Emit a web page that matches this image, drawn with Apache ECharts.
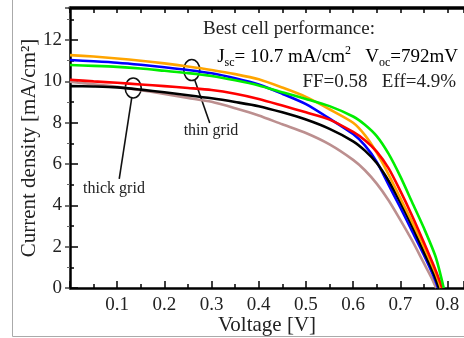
<!DOCTYPE html>
<html>
<head>
<meta charset="utf-8">
<script src="https://cdn.jsdelivr.net/npm/echarts@6/dist/echarts.min.js"></script>
<style>
  html, body { margin: 0; padding: 0; background: #fff; }
  #chart { width: 464px; height: 338px; }
</style>
</head>
<body>
<div id="chart"></div>
<script>
// J-V curves: voltage [V] and current density [mA/cm2]
const voltage = [0, 0.05, 0.1, 0.15, 0.2, 0.25, 0.3, 0.35, 0.4, 0.45, 0.5, 0.55, 0.6, 0.625, 0.65, 0.675, 0.7, 0.725, 0.75];
const orangeJ = [11.27, 11.2, 11.11, 11.0, 10.87, 10.72, 10.55, 10.35, 10.1, 9.7, 9.25, 8.65, 8.0, 7.4, 6.55, 5.5, 4.35, 3.2, 2.0];
const blueJ = [11.03, 10.97, 10.9, 10.8, 10.68, 10.55, 10.39, 10.15, 9.85, 9.4, 8.9, 8.2, 7.45, 6.9, 6.1, 5.0, 3.9, 2.75, 1.6];
const greenJ = [10.79, 10.75, 10.7, 10.62, 10.51, 10.4, 10.26, 10.05, 9.8, 9.47, 9.15, 8.8, 8.3, 7.9, 7.35, 6.5, 5.4, 4.15, 2.9];
const redJ = [10.08, 10.0, 9.93, 9.85, 9.77, 9.68, 9.58, 9.4, 9.15, 8.83, 8.5, 8.15, 7.55, 7.15, 6.6, 5.8, 4.7, 3.5, 2.2];
const blackJ = [9.77, 9.75, 9.71, 9.6, 9.47, 9.33, 9.18, 9.0, 8.8, 8.5, 8.15, 7.7, 7.1, 6.65, 6.05, 5.2, 4.15, 3.0, 1.75];
const brownJ = [9.98, 9.86, 9.74, 9.57, 9.39, 9.2, 9.01, 8.7, 8.35, 7.92, 7.5, 6.95, 6.2, 5.7, 5.05, 4.25, 3.3, 2.3, 1.2];
// tail of each curve down to its open-circuit voltage: [V, J] pairs
const orangeTail = [[0.775, 0.7], [0.786, 0]];
const blueTail = [[0.77, 0.6], [0.78, 0]];
const greenTail = [[0.775, 1.5], [0.792, 0]];
const redTail = [[0.775, 0.85], [0.789, 0]];
const blackTail = [[0.77, 0.75], [0.782, 0]];
const brownTail = [[0.765, 0.55], [0.776, 0]];

// circled regions (V, J) for the grid annotations
const thickGridMark = [0.134, 9.68];
const thinGridMark = [0.258, 10.55];

const SERIF = '"Liberation Serif", "DejaVu Serif", serif';
const TEXT_COLOR = "#222";

function curve(color, js, tail) {
  const data = voltage.map((v, i) => [v, js[i]]).concat(tail);
  return {
    type: "line",
    data,
    smooth: 0.25,
    showSymbol: false,
    lineStyle: { color, width: 2.6 },
    silent: true,
  };
}

const chart = echarts.init(document.getElementById("chart"), null, { renderer: "canvas" });

const axisText = { fontFamily: SERIF, fontSize: 19, color: TEXT_COLOR };

chart.setOption({
  animation: false,
  backgroundColor: "#fff",
  grid: { left: 70, top: 8, right: 0, bottom: 50, outerBoundsMode: "none", containLabel: false },
  xAxis: [
    {
      type: "value",
      min: 0,
      max: 0.835,
      interval: 0.1,
      name: "Voltage [V]",
      nameLocation: "middle",
      nameGap: 27,
      nameMoveOverlap: false,
      nameTextStyle: { fontFamily: SERIF, fontSize: 21, color: TEXT_COLOR, verticalAlign: "top" },
      axisLine: { show: true, onZero: false, lineStyle: { color: "#000", width: 2.5 } },
      axisTick: { inside: true, length: 7, lineStyle: { color: "#000", width: 1.5 } },
      minorTick: { show: true, splitNumber: 2, length: 4, lineStyle: { color: "#000", width: 1.5 } },
      axisLabel: {
        ...axisText,
        margin: 8,
        showMaxLabel: false,
        formatter: (v) => (v === 0 ? "" : v.toFixed(1)),
      },
      splitLine: { show: false },
    },
    {
      type: "value",
      position: "top",
      min: 0,
      max: 0.835,
      interval: 0.1,
      axisLine: { show: true, onZero: false, lineStyle: { color: "#000", width: 3.5 } },
      axisTick: { inside: true, length: 5, lineStyle: { color: "#000", width: 1.5 } },
      minorTick: { show: true, splitNumber: 2, length: 5, lineStyle: { color: "#000", width: 1.5 } },
      axisLabel: { show: false },
      splitLine: { show: false },
    },
  ],
  yAxis: [
    {
      type: "value",
      min: 0,
      max: 13.55,
      interval: 2,
      name: "Current density [mA/cm²]",
      nameLocation: "middle",
      nameGap: 30,
      nameMoveOverlap: false,
      nameTextStyle: { fontFamily: SERIF, fontSize: 21, color: TEXT_COLOR },
      axisLine: { show: true, onZero: false, lineStyle: { color: "#000", width: 2.5 } },
      axisTick: { inside: true, length: 8, lineStyle: { color: "#000", width: 1.5 } },
      minorTick: { show: true, splitNumber: 2, length: 4, lineStyle: { color: "#000", width: 1.5 } },
      axisLabel: { ...axisText, margin: 8, showMaxLabel: false, formatter: (v) => String(v) },
      splitLine: { show: false },
    },
    {
      type: "value",
      position: "right",
      min: 0,
      max: 13.55,
      interval: 2,
      axisLine: { show: false },
      axisTick: { show: true, inside: true, length: 5, lineStyle: { color: "#444", width: 1.5 } },
      minorTick: { show: true, splitNumber: 2, length: 3, lineStyle: { color: "#666", width: 1 } },
      axisLabel: { show: false },
      splitLine: { show: false },
    },
  ],
  series: [
    curve("#bc8f8f", brownJ, brownTail),
    curve("#0000ff", blueJ, blueTail),
    curve("#000000", blackJ, blackTail),
    curve("#ffa500", orangeJ, orangeTail),
    curve("#ff0000", redJ, redTail),
    curve("#00ee00", greenJ, greenTail),
  ],
});

// annotations placed from data coords
const thick = chart.convertToPixel({ gridIndex: 0 }, thickGridMark);
const thin = chart.convertToPixel({ gridIndex: 0 }, thinGridMark);
const ringStyle = { fill: "none", stroke: "#111", lineWidth: 1.6 };
const leaderStyle = { stroke: "#111", lineWidth: 1.6 };
const main = { fontFamily: SERIF, fontSize: 19, color: TEXT_COLOR, lineHeight: 24, verticalAlign: "middle" };
const sub = { fontFamily: SERIF, fontSize: 12, color: TEXT_COLOR, verticalAlign: "bottom" };
const sup = { fontFamily: SERIF, fontSize: 12, color: TEXT_COLOR, verticalAlign: "top" };

chart.setOption({
  graphic: [
    // outer frame of the original figure
    { type: "line", shape: { x1: 12.5, y1: 0, x2: 12.5, y2: 336.5 }, style: { stroke: "#aaa", lineWidth: 1 }, silent: true },
    { type: "line", shape: { x1: 12.5, y1: 336.5, x2: 464, y2: 336.5 }, style: { stroke: "#aaa", lineWidth: 1 }, silent: true },

    { type: "ellipse", shape: { cx: thick[0], cy: thick[1], rx: 8, ry: 10 }, style: ringStyle, silent: true },
    { type: "line", shape: { x1: thick[0] - 1.5, y1: thick[1] + 10, x2: thick[0] - 14, y2: thick[1] + 91 }, style: leaderStyle, silent: true },
    {
      type: "text", x: 114, y: 189, silent: true,
      style: { text: "thick grid", font: "16px " + SERIF, fill: TEXT_COLOR, align: "center", verticalAlign: "middle" },
    },

    { type: "ellipse", shape: { cx: thin[0], cy: thin[1], rx: 8, ry: 10.5 }, style: ringStyle, silent: true },
    { type: "line", shape: { x1: thin[0] + 3, y1: thin[1] + 10, x2: thin[0] + 18, y2: thin[1] + 53 }, style: leaderStyle, silent: true },
    {
      type: "text", x: 211, y: 131, silent: true,
      style: { text: "thin grid", font: "16px " + SERIF, fill: TEXT_COLOR, align: "center", verticalAlign: "middle" },
    },

    {
      type: "text", x: 203, y: 29, silent: true,
      style: { text: "Best cell performance:", font: "19px " + SERIF, fill: TEXT_COLOR, align: "left", verticalAlign: "middle" },
    },
    {
      type: "text", x: 458, y: 57, silent: true,
      style: {
        text: "{m|J}{s|sc}{m|= 10.7 mA/cm}{p|2}{m|   V}{s|oc}{m|=792mV}",
        align: "right",
        verticalAlign: "middle",
        rich: { m: main, s: sub, p: sup },
      },
    },
    {
      type: "text", x: 456, y: 82, silent: true,
      style: { text: "FF=0.58   Eff=4.9%", font: "19px " + SERIF, fill: TEXT_COLOR, align: "right", verticalAlign: "middle" },
    },
  ],
});
</script>
</body>
</html>
